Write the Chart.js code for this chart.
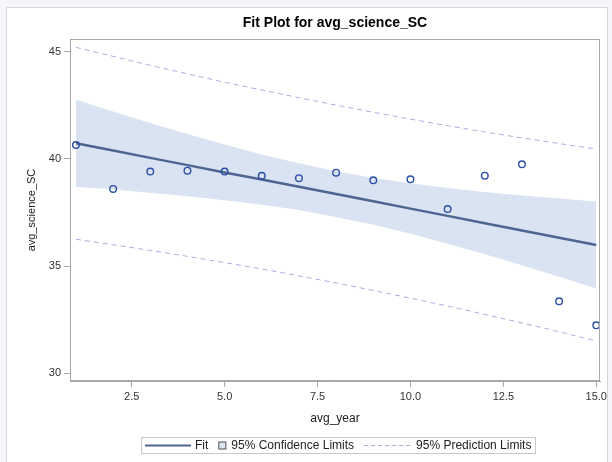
<!DOCTYPE html>
<html>
<head>
<meta charset="utf-8">
<script src="https://cdn.jsdelivr.net/npm/chart.js@4"></script>
<style>
  html, body { margin: 0; padding: 0; background: #f4f6f9; }
  #wrap { position: relative; width: 612px; height: 462px; overflow: hidden; }
  #frame { position: absolute; left: 6px; top: 7px; width: 600px; height: 470px; background: #fff; border: 1px solid #d8d8d8; }
  #chart { position: absolute; left: 0; top: 0; }
</style>
</head>
<body>
<div id="wrap">
  <div id="frame"></div>
  <canvas id="chart" width="612" height="462"></canvas>
</div>
<script>
// data
const years = [1, 2, 3, 4, 5, 6, 7, 8, 9, 10, 11, 12, 13, 14, 15];
const science = [40.65, 38.60, 39.41, 39.45, 39.41, 39.21, 39.10, 39.36, 39.00, 39.05, 37.66, 39.22, 39.75, 33.35, 32.23];
const fitLine = [40.73, 40.39, 40.05, 39.71, 39.37, 39.04, 38.70, 38.36, 38.02, 37.68, 37.34, 37.00, 36.66, 36.32, 35.98];
const confUpper = [42.76, 42.21, 41.68, 41.16, 40.67, 40.21, 39.80, 39.43, 39.11, 38.86, 38.64, 38.45, 38.29, 38.15, 38.01];
const confLower = [38.70, 38.57, 38.42, 38.26, 38.07, 37.86, 37.61, 37.29, 36.93, 36.51, 36.04, 35.55, 35.03, 34.50, 33.95];
const predUpper = [45.21, 44.79, 44.37, 43.97, 43.58, 43.22, 42.86, 42.51, 42.18, 41.86, 41.55, 41.26, 40.98, 40.72, 40.46];
const predLower = [36.25, 35.99, 35.73, 35.45, 35.16, 34.86, 34.54, 34.21, 33.86, 33.50, 33.13, 32.74, 32.34, 31.93, 31.50];
const xTicks = [2.5, 5.0, 7.5, 10.0, 12.5, 15.0];
const yTicks = [30, 35, 40, 45];

const FONT = '"Liberation Sans", Arial, sans-serif';
const fitColor = '#4f6591';
const bandColor = '#dae3f1';
const predColor = '#a6b0dd';
const markColor = '#2a4ea6';
const axisColor = '#a8a8a8';

const pts = arr => years.map((x, i) => ({ x: x, y: arr[i] }));

// title, plot frame and legend
const decor = {
  id: 'decor',
  afterDraw(chart) {
    const ctx = chart.ctx;
    const a = chart.chartArea;
    ctx.save();
    ctx.strokeStyle = axisColor;
    ctx.lineWidth = 1;
    ctx.strokeRect(Math.round(a.left) + 0.5, Math.round(a.top) + 0.5, Math.round(a.right - a.left) - 1, Math.round(a.bottom - a.top) - 1);

    ctx.fillStyle = '#000';
    ctx.font = 'bold 14px ' + FONT;
    ctx.textAlign = 'center';
    ctx.textBaseline = 'middle';
    ctx.fillText('Fit Plot for avg_science_SC', (a.left + a.right) / 2, 23);

    // legend
    ctx.font = '12px ' + FONT;
    ctx.textAlign = 'left';
    const ly = 445.5;
    let x = 145;
    const parts = [];
    ctx.strokeStyle = fitColor;
    ctx.lineWidth = 2;
    ctx.beginPath(); ctx.moveTo(x, ly); ctx.lineTo(x + 46, ly); ctx.stroke();
    x += 50;
    ctx.fillStyle = '#222';
    ctx.fillText('Fit', x, ly);
    x += ctx.measureText('Fit').width + 10;
    ctx.fillStyle = bandColor;
    ctx.fillRect(x, ly - 4, 8, 8);
    ctx.strokeStyle = '#555';
    ctx.lineWidth = 1;
    ctx.strokeRect(x + 0.5, ly - 4 + 0.5, 7, 7);
    x += 13;
    ctx.fillStyle = '#222';
    ctx.fillText('95% Confidence Limits', x, ly);
    x += ctx.measureText('95% Confidence Limits').width + 10;
    ctx.strokeStyle = predColor;
    ctx.setLineDash([4, 3]);
    ctx.beginPath(); ctx.moveTo(x, ly); ctx.lineTo(x + 46, ly); ctx.stroke();
    ctx.setLineDash([]);
    x += 52;
    ctx.fillText('95% Prediction Limits', x, ly);
    x += ctx.measureText('95% Prediction Limits').width + 4;
    ctx.strokeStyle = '#c8c8c8';
    ctx.strokeRect(141.5, 437.5, Math.round(x - 141), 16);
    ctx.restore();
  }
};

new Chart(document.getElementById('chart'), {
  type: 'line',
  data: {
    datasets: [
      {
        label: 'avg_science_SC', data: pts(science), showLine: false,
        pointStyle: 'circle', pointRadius: 3.3, pointBorderWidth: 1.4,
        pointBorderColor: markColor, pointBackgroundColor: 'rgba(255,255,255,0)'
      },
      {
        label: 'Fit', data: pts(fitLine), borderColor: fitColor, borderWidth: 2.5,
        pointRadius: 0, fill: false
      },
      {
        label: '95% Prediction Limits', data: pts(predUpper), borderColor: predColor,
        borderWidth: 1, borderDash: [5, 4], pointRadius: 0, fill: false
      },
      {
        label: '95% Prediction Limits', data: pts(predLower), borderColor: predColor,
        borderWidth: 1, borderDash: [5, 4], pointRadius: 0, fill: false
      },
      {
        label: '95% Confidence Limits', data: pts(confUpper), borderWidth: 0,
        borderColor: 'rgba(0,0,0,0)', backgroundColor: bandColor, pointRadius: 0, fill: 5
      },
      {
        label: 'lower', data: pts(confLower), borderWidth: 0,
        borderColor: 'rgba(0,0,0,0)', pointRadius: 0, fill: false
      }
    ]
  },
  options: {
    responsive: false,
    animation: false,
    devicePixelRatio: 1,
    layout: { padding: { left: 0, right: 12, top: 39, bottom: 31 } },
    plugins: { legend: { display: false }, title: { display: false }, tooltip: { enabled: false } },
    scales: {
      x: {
        type: 'linear', min: 0.84, max: 15.1,
        afterBuildTicks: s => { s.ticks = xTicks.map(v => ({ value: v })); },
        afterFit: s => { s.height = 50; },
        grid: { display: true, drawOnChartArea: false, drawTicks: true, tickLength: 6, color: axisColor },
        border: { display: true, color: axisColor },
        ticks: { padding: 3, color: '#333', font: { family: FONT, size: 11 }, callback: v => v.toFixed(1), maxRotation: 0 },
        title: { display: true, text: 'avg_year', color: '#222', font: { family: FONT, size: 12 }, padding: { top: 0, bottom: 5 } }
      },
      y: {
        type: 'linear', min: 29.63, max: 45.6,
        afterBuildTicks: s => { s.ticks = yTicks.map(v => ({ value: v })); },
        afterFit: s => { s.width = 70; },
        grid: { display: true, drawOnChartArea: false, drawTicks: true, tickLength: 6, color: axisColor },
        border: { display: true, color: axisColor },
        ticks: { padding: 3, color: '#333', font: { family: FONT, size: 11 }, callback: v => String(v) },
        title: { display: true, text: 'avg_science_SC', color: '#222', font: { family: FONT, size: 11 }, padding: { top: 25, bottom: 0 } }
      }
    }
  },
  plugins: [decor]
});
</script>
</body>
</html>
